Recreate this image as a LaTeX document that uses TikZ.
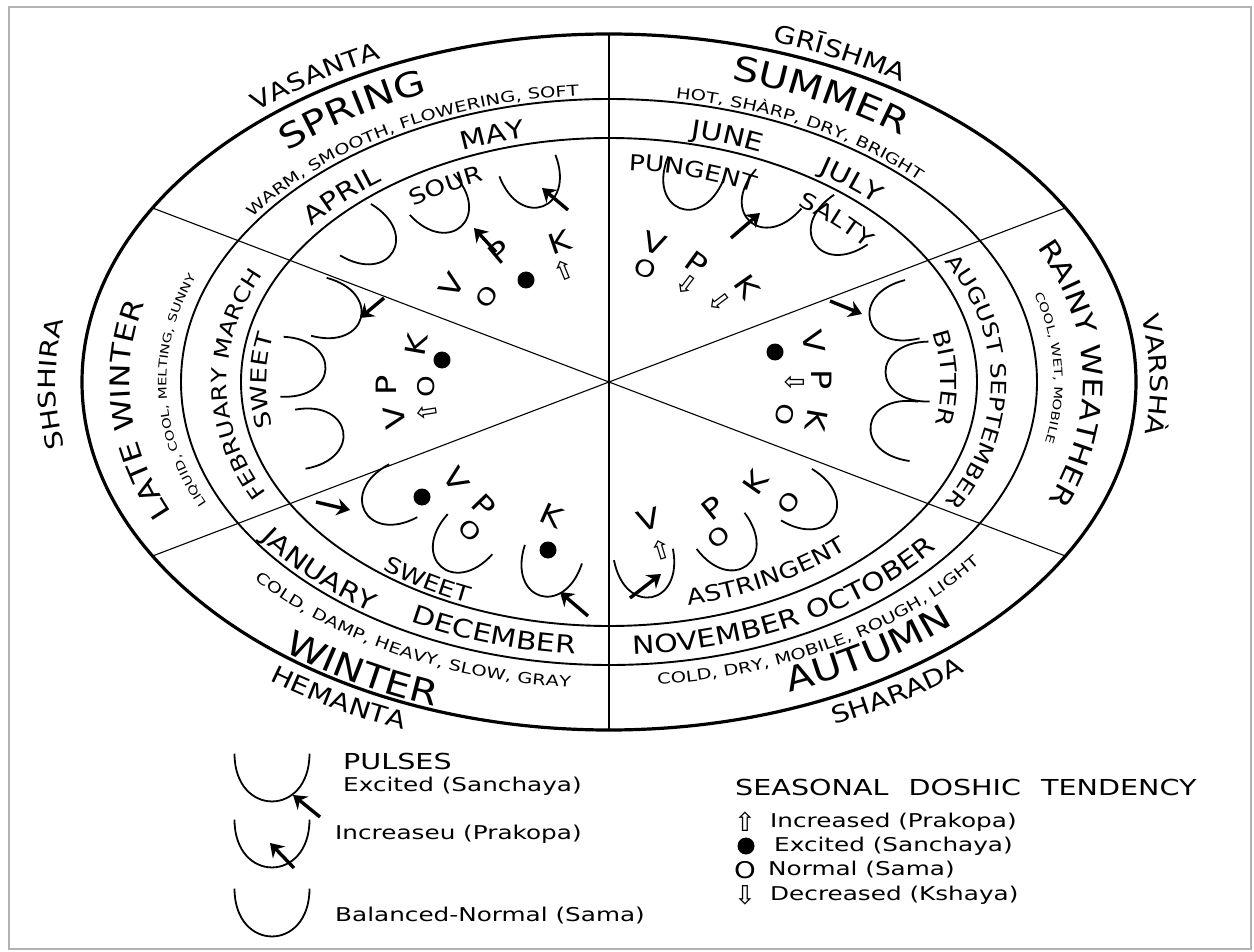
\documentclass[tikz,border=0pt]{standalone}
\usepackage{fontspec}
\setmainfont{DejaVu Sans}
\newfontfamily\letfont[FakeStretch=1.2]{DejaVu Sans}
\newfontfamily\widefont[FakeStretch=1.3]{DejaVu Sans}
\usetikzlibrary{decorations.text,arrows.meta}

\newcommand{\namefont}{\letfont\fontsize{24}{24}\selectfont}
\newcommand{\seasonfont}{\letfont\fontsize{34}{34}\selectfont}
\newcommand{\seasonsmall}{\letfont\fontsize{27}{27}\selectfont}
\newcommand{\descfont}{\widefont\fontsize{15}{15}\selectfont}
\newcommand{\descsmall}{\widefont\fontsize{11.5}{11.5}\selectfont}
\newcommand{\monthfont}{\letfont\fontsize{25}{25}\selectfont}
\newcommand{\monthsmall}{\letfont\fontsize{21}{21}\selectfont}
\newcommand{\tastefont}{\letfont\fontsize{22}{22}\selectfont}
\newcommand{\dosfont}{\letfont\fontsize{28}{28}\selectfont}
\newcommand{\samafont}{\letfont\fontsize{23}{23}\selectfont}
\newcommand{\symfont}{\fontsize{26}{26}\selectfont}
\newcommand{\headfont}{\widefont\fontsize{22}{22}\selectfont}
\newcommand{\legfont}{\widefont\fontsize{19}{19}\selectfont}

% text on a ring, tops outward: font, centre angle, half span, ring scale, text
\newcommand{\toplabel}[5]{%
  \path[shift={(609,-382)}, decorate,
    decoration={text along path, text align=center, text={|#1|#5}}]
    ({#2+#3}:{#4*527} and {#4*348})
    arc[start angle={#2+#3}, end angle={#2-#3}, x radius={#4*527}, y radius={#4*348}];}
% text on a ring, tops inward
\newcommand{\botlabel}[5]{%
  \path[shift={(609,-382)}, decorate,
    decoration={text along path, text align=center, text={|#1|#5}}]
    ({#2-#3}:{#4*527} and {#4*348})
    arc[start angle={#2-#3}, end angle={#2+#3}, x radius={#4*527}, y radius={#4*348}];}
% pulse cup: [scale options] x, y, rotation
\newcommand{\pulse}[4][scale=1]{%
  \draw[pulseline, shift={(#2,-#3)}, rotate=#4, #1]
    (-30,24) .. controls (-30,-34) and (30,-34) .. (30,24);}

\begin{document}
\begin{tikzpicture}[x=1pt, y=1pt,
    outerring/.style={line width=3.2pt},
    ring/.style={line width=1.9pt},
    spoke/.style={line width=1.1pt},
    pulseline/.style={line width=1.8pt},
    pulsearrow/.style={line width=3.4pt, -{Stealth[length=13pt, width=17pt]}},
    dosha/.style={font=\dosfont, inner sep=0pt},
    sama/.style={font=\samafont, inner sep=0pt},
    sanchaya/.style={circle, fill, inner sep=0pt, minimum size=17pt},
    arrowsym/.style={font=\symfont, inner sep=0pt},
    legendhead/.style={font=\headfont, anchor=west, inner sep=0pt},
    legendtext/.style={font=\legfont, anchor=west, inner sep=0pt}]
    \useasboundingbox (0,0) rectangle (1254,-952);
    \draw[gray!60, line width=2pt] (9,-7) rectangle (1251,-949);

    % rings and spokes
    \coordinate (c) at (609,-382);
    \draw[outerring] (c) ellipse [x radius=527, y radius=348];
    \draw[ring] (c) ellipse [x radius=428, y radius=283];
    \draw[ring] (c) ellipse [x radius=368, y radius=244];
    \begin{scope}[shift={(c)}]
        \foreach \t in {30,90,150,210,270,330}
            \coordinate (rim\t) at (\t:527 and 348);
    \end{scope}
    \draw[spoke] (rim90) -- (rim270);
    \draw[spoke] (rim30) -- (rim210);
    \draw[spoke] (rim150) -- (rim330);

    % Sanskrit names
    \toplabel{\namefont}{125}{30}{1.025}{VASANTA}
    \toplabel{\namefont}{63}{30}{1.025}{GRĪSHMA}
    \toplabel{\namefont}{1}{30}{1.027}{VARSHÀ}
    \botlabel{\namefont}{-56.6}{30}{1.073}{SHARADA}
    \botlabel{\namefont}{238.9}{30}{1.073}{HEMANTA}
    \toplabel{\namefont}{180.3}{30}{1.05}{SHSHIRA}

    % seasons
    \toplabel{\seasonfont}{123.6}{22}{0.90}{SPRING}
    \toplabel{\seasonfont}{62.5}{24}{0.90}{SUMMER}
    \toplabel{\seasonsmall}{1.5}{32}{0.90}{RAINY WEATHER}
    \botlabel{\seasonfont}{-56.7}{24}{0.955}{AUTUMN}
    \botlabel{\seasonfont}{240}{22}{0.99}{WINTER}
    \toplabel{\seasonsmall}{184.6}{30}{0.91}{LATE WINTER}

    % qualities
    \toplabel{\descfont}{121}{36}{0.825}{WARM, SMOOTH, FLOWERING, SOFT}
    \toplabel{\descfont}{61.6}{30}{0.825}{HOT, SHÀRP, DRY, BRIGHT}
    \toplabel{\descsmall}{2.5}{30}{0.845}{COOL, WET, MOBILE}
    \botlabel{\descfont}{-58.5}{36}{0.875}{COLD, DRY, MOBILE, ROUGH, LIGHT}
    \botlabel{\descfont}{241}{36}{0.88}{COLD, DAMP, HEAVY, SLOW, GRAY}
    \toplabel{\descsmall}{181.6}{36}{0.84}{LIQUID, COOL, MELTING, SUNNY}

    % months
    \toplabel{\monthfont}{108}{14}{0.72}{MAY}
    \toplabel{\monthfont}{135}{18}{0.72}{APRIL}
    \toplabel{\monthfont}{71.7}{14}{0.72}{JUNE}
    \toplabel{\monthfont}{50.2}{16}{0.72}{JULY}
    \toplabel{\monthsmall}{0}{40}{0.725}{AUGUST SEPTEMBER}
    \botlabel{\monthfont}{-60}{40}{0.785}{NOVEMBER OCTOBER}
    \botlabel{\monthfont}{253}{20}{0.785}{DECEMBER}
    \botlabel{\monthfont}{224}{20}{0.80}{JANUARY}
    \toplabel{\monthsmall}{180.5}{40}{0.725}{FEBRUARY MARCH}

    % tastes
    \toplabel{\tastefont}{120}{18}{0.625}{SOUR}
    \toplabel{\tastefont}{74.5}{20}{0.61}{PUNGENT}
    \toplabel{\tastefont}{45.8}{16}{0.62}{SALTY}
    \toplabel{\tastefont}{1}{22}{0.63}{BITTER}
    \botlabel{\tastefont}{-60.7}{26}{0.66}{ASTRINGENT}
    \botlabel{\tastefont}{238.8}{16}{0.69}{SWEET}
    \toplabel{\tastefont}{179.7}{22}{0.65}{SWEET}

    % pulses
    \pulse{376}{242}{59}
    \pulse{448}{212}{43}
    \pulse{536}{188}{21}
    \pulse{687}{190}{-22}
    \pulse{763}{207}{-41}
    \pulse{831}{233}{-56}
    \pulse{889}{315}{-76}
    \pulse{905}{372}{-89}
    \pulse{890}{428}{-98}
    \pulse{648}{578}{11}
    \pulse{735}{550}{37}
    \pulse{817}{507}{59}
    \pulse{382}{502}{-62}
    \pulse{454}{552}{-42}
    \pulse{546}{577}{-18}
    \pulse{342}{313}{75}
    \pulse{306}{368}{87}
    \pulse{324}{435}{100}
    % pulse arrows
    \draw[pulsearrow] (496,-252) -- (474,-228);
    \draw[pulsearrow] (568,-210) -- (542,-188);
    \draw[pulsearrow] (731,-238) -- (760,-213);
    \draw[pulsearrow] (830,-301) -- (862,-314);
    \draw[pulsearrow] (630,-598) -- (661,-574);
    \draw[pulsearrow] (316,-502) -- (350,-510);
    \draw[pulsearrow] (588,-616) -- (560,-592);
    \draw[pulsearrow] (384,-298) -- (360,-318);

    % doshas, spring
    \node[dosha, rotate=58] (sprV) at (452,-285) {V};
    \node[sama, rotate=55] (sprVs) at (487,-297) {O};
    \node[dosha, rotate=40] (sprP) at (500,-252) {P};
    \node[sanchaya] (sprPs) at (526,-280) {};
    \node[dosha, rotate=19] (sprK) at (560,-242) {K};
    \node[arrowsym, rotate=22] (sprKs) at (564,-270) {⇧};
    % doshas, summer
    \node[dosha, rotate=-18] (sumV) at (655,-243) {V};
    \node[sama, rotate=-17] (sumVs) at (645,-269) {O};
    \node[dosha, rotate=-36] (sumP) at (697,-263) {P};
    \node[arrowsym, rotate=-37] (sumPs) at (687,-285) {⇩};
    \node[dosha, rotate=-55] (sumK) at (747,-287) {K};
    \node[arrowsym, rotate=-53] (sumKs) at (719,-302) {⇩};
    % doshas, rainy weather
    \node[dosha, rotate=-79] (raiV) at (814,-342) {V};
    \node[sanchaya] (raiVs) at (775,-352) {};
    \node[dosha, rotate=-90] (raiP) at (822,-380) {P};
    \node[arrowsym, rotate=-90] (raiPs) at (795,-382) {⇩};
    \node[dosha, rotate=-100] (raiK) at (817,-420) {K};
    \node[sama, rotate=-100] (raiKs) at (785,-415) {O};
    % doshas, autumn
    \node[dosha, rotate=16] (autV) at (649,-520) {V};
    \node[arrowsym, rotate=17] (autVs) at (661,-550) {⇧};
    \node[dosha, rotate=39] (autP) at (713,-508) {P};
    \node[sama, rotate=39] (autPs) at (719,-537) {O};
    \node[dosha, rotate=55] (autK) at (755,-483) {K};
    \node[sama, rotate=55] (autKs) at (789,-503) {O};
    % doshas, winter
    \node[dosha, rotate=-57] (winV) at (456,-480) {V};
    \node[sanchaya] (winVs) at (422,-497) {};
    \node[dosha, rotate=-46] (winP) at (484,-506) {P};
    \node[sama, rotate=-46] (winPs) at (470,-530) {O};
    \node[dosha, rotate=-24] (winK) at (552,-516) {K};
    \node[sanchaya] (winKs) at (548,-550) {};
    % doshas, late winter
    \node[dosha, rotate=99] (latV) at (395,-418) {V};
    \node[arrowsym, rotate=99] (latVs) at (427,-412) {⇧};
    \node[dosha, rotate=90] (latP) at (386,-385) {P};
    \node[sama, rotate=90] (latPs) at (426,-387) {O};
    \node[dosha, rotate=80] (latK) at (416,-345) {K};
    \node[sanchaya] (latKs) at (442,-360) {};

    % legend, pulses
    \pulse[xscale=1.25, yscale=1.1]{272}{780}{0}
    \pulse[xscale=1.25, yscale=1.1]{272}{846}{0}
    \pulse[xscale=1.25, yscale=1.1]{272}{915}{0}
    \draw[pulsearrow] (320,-817) -- (293,-795);
    \draw[pulsearrow] (294,-868) -- (270,-843);
    \node[legendhead] (pulses) at (343,-761) {PULSES};
    \node[legendtext] (excited) at (343,-786) {Excited (Sanchaya)};
    \node[legendtext] (increased) at (335,-834) {Increaseu (Prakopa)};
    \node[legendtext] (balanced) at (335,-916) {Balanced-Normal (Sama)};

    % legend, doshic tendency
    \node[legendhead] (tendency) at (735,-787) {SEASONAL\hspace{20pt}DOSHIC\hspace{20pt}TENDENCY};
    \node[arrowsym] (legUp) at (745,-822) {⇧};
    \node[legendtext] (legUpText) at (770,-822) {Increased (Prakopa)};
    \node[sanchaya] (legDot) at (746,-846) {};
    \node[legendtext] (legDotText) at (774,-846) {Excited (Sanchaya)};
    \node[sama] (legO) at (745,-870) {O};
    \node[legendtext] (legOText) at (768,-870) {Normal (Sama)};
    \node[arrowsym] (legDown) at (745,-895) {⇩};
    \node[legendtext] (legDownText) at (770,-895) {Decreased (Kshaya)};
\end{tikzpicture}
\end{document}
